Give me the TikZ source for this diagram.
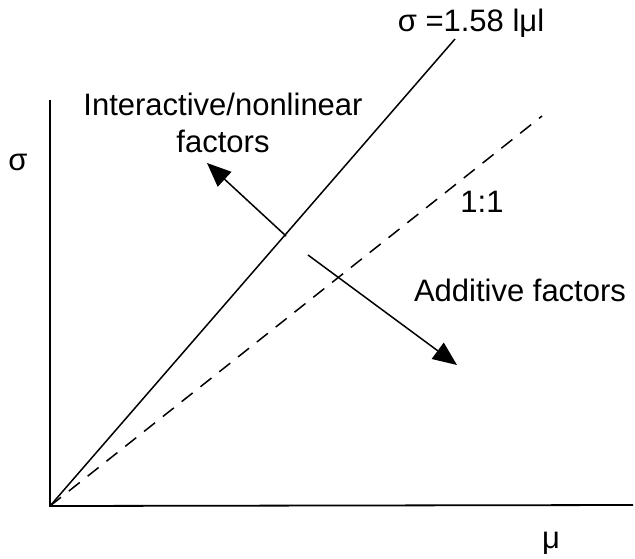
\documentclass[tikz,border=0pt]{standalone}
\usepackage{fontspec}
\setmainfont{Liberation Sans}
\usetikzlibrary{arrows.meta}

\begin{document}
\begin{tikzpicture}[x=1pt, y=-1pt,
    lbl/.style={anchor=base, inner sep=0pt, font=\fontsize{31}{37}\selectfont},
    axis/.style={line width=1.8pt},
    ratio/.style={line width=1.5pt},
    moveto/.style={line width=1.5pt, -{Triangle[length=24pt,width=20pt]}}]
  \useasboundingbox (0,0) rectangle (635,558);

  % Axes
  \coordinate (O) at (50,506);
  \coordinate (ytop) at (50,100);
  \coordinate (xend) at (633,505);
  \draw[axis] (ytop) -- (O) -- (xend);
  \node[lbl] (sig) at (18,170) {σ};
  \node[lbl] (mu) at (551,548) {μ};

  % Lines through the origin
  \coordinate (steep) at (455,39);
  \coordinate (unit) at (542,116);
  \draw[ratio] (O) -- (steep);
  \draw[ratio, dash pattern=on 14pt off 10pt] (O) -- (unit);
  \node[lbl] (steeplbl) at (471,31) {σ =1.58 lμl};
  \node[lbl] (unitlbl) at (482,212) {1:1};

  % Arrows
  \coordinate (a1) at (286,236);
  \coordinate (a2) at (207,163);
  \coordinate (b1) at (308,255);
  \coordinate (b2) at (457,365);
  \draw[moveto] (a1) -- (a2);
  \draw[moveto] (b1) -- (b2);
  \node[lbl] (inter) at (223,115) {Interactive/nonlinear};
  \node[lbl] (interb) at (223,152) {factors};
  \node[lbl] (addit) at (520,301) {Additive factors};
\end{tikzpicture}
\end{document}
